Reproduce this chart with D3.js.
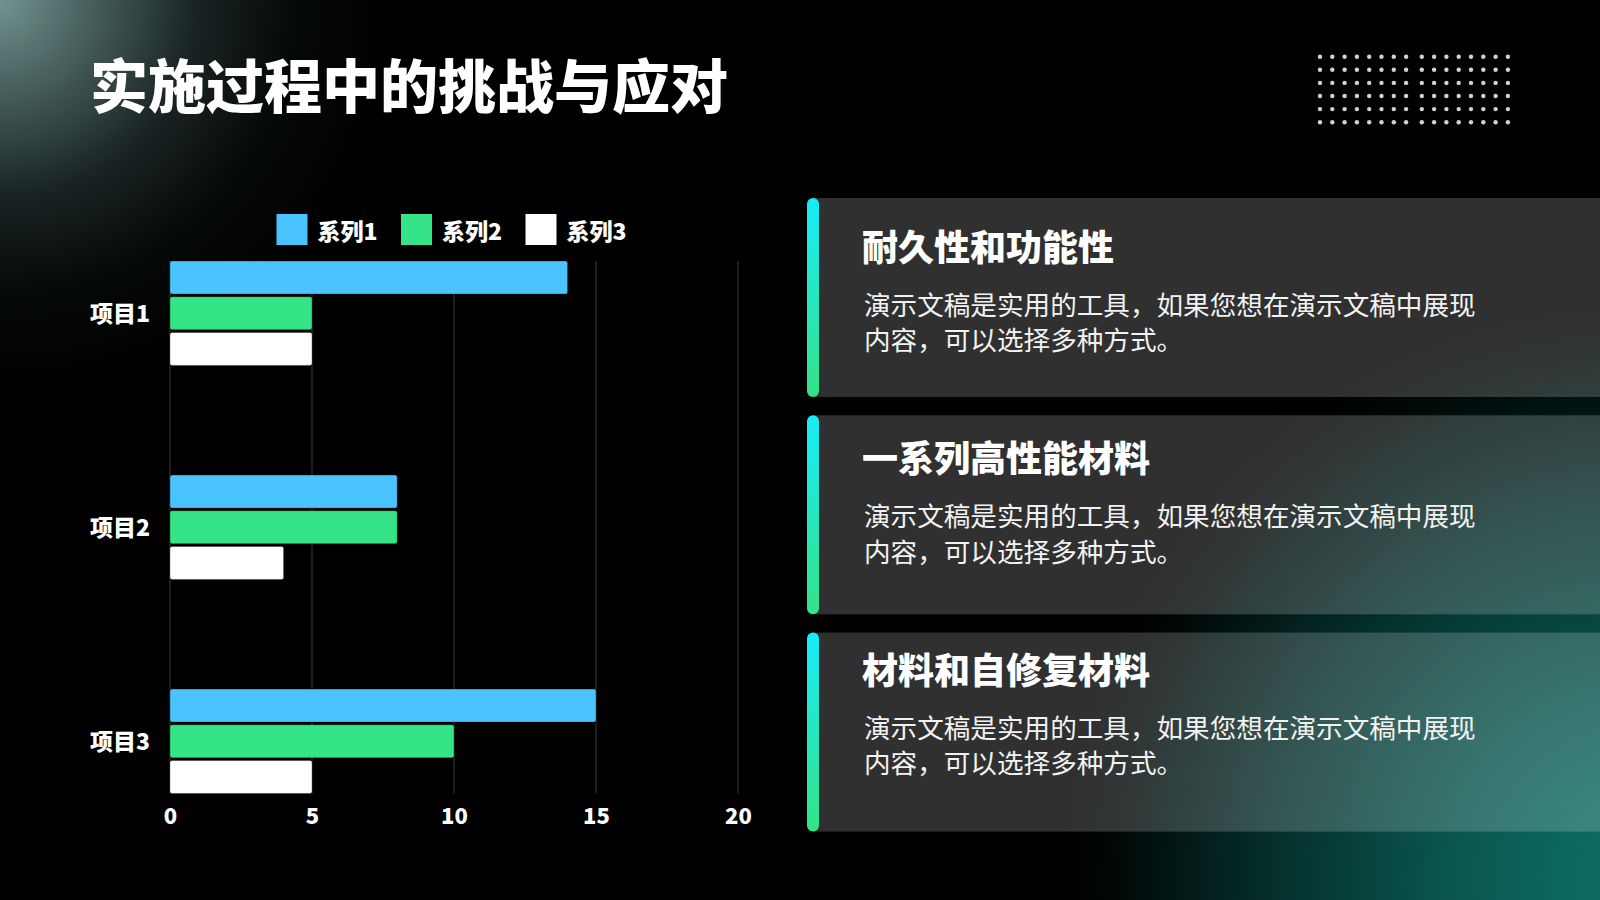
<!DOCTYPE html>
<html>
<head>
<meta charset="utf-8">
<script src="https://cdn.jsdelivr.net/npm/d3@7"></script>
<style>
  html, body { margin: 0; padding: 0; background: #000; }
  svg { display: block; }
  text { font-family: 'Noto Sans CJK SC', 'Noto Sans', sans-serif; }
</style>
</head>
<body>
<svg id="chart" width="1600" height="900"></svg>
<script>
// ---- data ----
const titleText = "实施过程中的挑战与应对";
const categories = ["项目1", "项目2", "项目3"];
const seriesNames = ["系列1", "系列2", "系列3"];
const series1 = [14, 8, 15];
const series2 = [5, 8, 10];
const series3 = [5, 4, 5];
const xTicks = [0, 5, 10, 15, 20];
const seriesColors = ["#4bc3ff", "#35e487", "#ffffff"];
const cardTitles = ["耐久性和功能性", "一系列高性能材料", "材料和自修复材料"];
const cardLine1 = ["演示文稿是实用的工具，如果您想在演示文稿中展现", "演示文稿是实用的工具，如果您想在演示文稿中展现", "演示文稿是实用的工具，如果您想在演示文稿中展现"];
const cardLine2 = ["内容，可以选择多种方式。", "内容，可以选择多种方式。", "内容，可以选择多种方式。"];

const svg = d3.select("#chart");
const defs = svg.append("defs");

// ---- background ----
svg.append("rect").attr("width", 1600).attr("height", 900).attr("fill", "#000");

const glowTL = defs.append("radialGradient").attr("id", "glowTL")
  .attr("gradientUnits", "userSpaceOnUse").attr("cx", 0).attr("cy", 0).attr("r", 390);
[[0, "#72938f"], [0.25, "#435b59"], [0.5, "#1a2424"], [0.75, "#060909"], [1, "#000"]]
  .forEach(([o, c]) => glowTL.append("stop").attr("offset", o).attr("stop-color", c));
svg.append("rect").attr("width", 1600).attr("height", 900).attr("fill", "url(#glowTL)");

const glowBR = defs.append("radialGradient").attr("id", "glowBR")
  .attr("gradientUnits", "userSpaceOnUse").attr("cx", 1640).attr("cy", 880).attr("r", 600);
[[0, "#0f716a"], [0.3, "#0a5851"], [0.6, "#05312d"], [0.85, "#010c0b"], [1, "#000", 0]]
  .forEach(([o, c, op]) => glowBR.append("stop").attr("offset", o).attr("stop-color", c)
    .attr("stop-opacity", op === undefined ? 1 : op));
svg.append("rect").attr("width", 1600).attr("height", 900).attr("fill", "url(#glowBR)");

// ---- title ----
svg.append("text").attr("x", 90).attr("y", 83)
  .attr("dominant-baseline", "central")
  .attr("fill", "#fff").attr("font-size", 58).attr("font-weight", 900)
  .text(titleText);

// ---- dot pattern ----
const dotCols = d3.range(16), dotRows = d3.range(6);
const dotG = svg.append("g").attr("fill", "#d2d2d2");
dotRows.forEach(r => dotCols.forEach(c => {
  dotG.append("circle")
    .attr("cx", 1320 + c * 12.3 + (c >= 8 ? 3.4 : 0))
    .attr("cy", 56.7 + r * 13.1)
    .attr("r", 2.2);
}));

// ---- chart ----
const x = d3.scaleLinear().domain([0, 20]).range([170, 738]);
const yCat = d3.scalePoint().domain(categories).range([313.2, 741.3]);
const ySer = d3.scaleBand().domain(seriesNames).range([-52.2, 52.2]).paddingInner(0.075);
const gridTop = yCat(categories[0]) + ySer.range()[0];
const gridBottom = yCat(categories[categories.length - 1]) + ySer.range()[1];

svg.append("g").selectAll("line").data(xTicks).join("line")
  .attr("x1", d => x(d)).attr("x2", d => x(d))
  .attr("y1", gridTop).attr("y2", gridBottom)
  .attr("stroke", "#3c3c3c").attr("stroke-width", 1);

const allSeries = [series1, series2, series3];
const barData = [];
categories.forEach((cat, i) => {
  seriesNames.forEach((s, j) => barData.push({ cat, s, v: allSeries[j][i], color: seriesColors[j] }));
});
svg.append("g").selectAll("rect").data(barData).join("rect")
  .attr("x", x(0))
  .attr("y", d => yCat(d.cat) + ySer(d.s))
  .attr("width", d => x(d.v) - x(0))
  .attr("height", ySer.bandwidth())
  .attr("rx", 2).attr("ry", 2)
  .attr("fill", d => d.color)
  .attr("stroke", "rgba(0,0,0,0.3)").attr("stroke-width", 1);

// x axis
const xAxisG = svg.append("g").attr("transform", "translate(0,816)")
  .call(d3.axisBottom(x).tickValues(xTicks).tickSize(0).tickPadding(0).tickFormat(d3.format("d")));
xAxisG.select(".domain").remove();
xAxisG.selectAll("text").attr("y", 0).attr("dy", "0.35em")
  .attr("fill", "#fff").attr("font-size", 22).attr("font-weight", 900)
  .style("font-family", "'Noto Sans CJK SC', sans-serif");

// y axis labels
const yAxisG = svg.append("g").attr("transform", "translate(150,0)")
  .call(d3.axisLeft(yCat).tickSize(0).tickPadding(0));
yAxisG.select(".domain").remove();
yAxisG.selectAll("text").attr("dy", "0.35em")
  .attr("fill", "#fff").attr("font-size", 23).attr("font-weight", 900)
  .style("font-family", "'Noto Sans CJK SC', sans-serif");

// legend
const legend = svg.append("g");
seriesNames.forEach((s, i) => {
  const lx = 276.5 + i * 124.5;
  legend.append("rect").attr("x", lx).attr("y", 214).attr("width", 31).attr("height", 31)
    .attr("fill", seriesColors[i]);
  legend.append("text").attr("x", lx + 41).attr("y", 229.5).attr("dominant-baseline", "central")
    .attr("fill", "#fff").attr("font-size", 23).attr("font-weight", 900).text(s);
});

// ---- cards ----
const accentGrad = defs.append("linearGradient").attr("id", "accent")
  .attr("x1", 0).attr("y1", 0).attr("x2", 0).attr("y2", 1);
accentGrad.append("stop").attr("offset", 0).attr("stop-color", "#17ebf8");
accentGrad.append("stop").attr("offset", 1).attr("stop-color", "#34e387");

cardTitles.forEach((t, i) => {
  const top = 198 + i * 217.3;
  const g = svg.append("g").attr("transform", `translate(0,${top})`);
  g.append("rect").attr("x", 813).attr("y", 0).attr("width", 787).attr("height", 199)
    .attr("fill", "#ffffff").attr("fill-opacity", 0.19);
  g.append("rect").attr("x", 807).attr("y", 0).attr("width", 12).attr("height", 199)
    .attr("rx", 6).attr("ry", 6).attr("fill", "url(#accent)");

  const tTop = 198 + i * 211.7;
  const tg = svg.append("g").attr("transform", `translate(0,${tTop})`);
  tg.append("text").attr("x", 862).attr("y", 46.5).attr("dominant-baseline", "central")
    .attr("fill", "#fff").attr("font-size", 36).attr("font-weight", 900).text(t);
  tg.append("text").attr("x", 864).attr("y", 105).attr("dominant-baseline", "central")
    .attr("fill", "#f2f2f2").attr("font-size", 26.6).attr("font-weight", 400).text(cardLine1[i]);
  tg.append("text").attr("x", 864).attr("y", 140.5).attr("dominant-baseline", "central")
    .attr("fill", "#f2f2f2").attr("font-size", 26.6).attr("font-weight", 400).text(cardLine2[i]);
});
</script>
</body>
</html>
